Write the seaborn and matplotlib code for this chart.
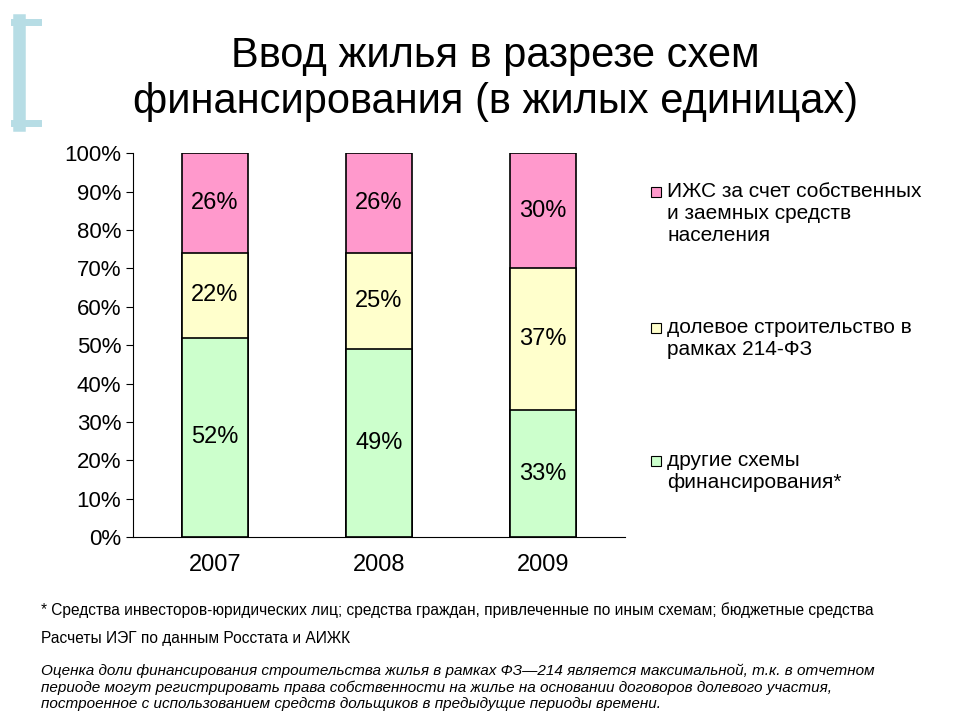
import matplotlib
matplotlib.use("Agg")
import matplotlib.pyplot as plt
import seaborn as sns
import pandas as pd
import numpy as np
from matplotlib.patches import Rectangle
from matplotlib.lines import Line2D

plt.rcParams["font.family"] = "Liberation Sans"

years = ["2007", "2008", "2009"]
other = [52, 49, 33]
shared = [22, 25, 37]
izhs = [26, 26, 30]
series_names = ["ИЖС за счет собственных\nи заемных средств\nнаселения",
                "долевое строительство в\nрамках 214-ФЗ",
                "другие схемы\nфинансирования*"]
colors = ["#ff99cc", "#ffffcc", "#ccffcc"]
yticks = [0, 10, 20, 30, 40, 50, 60, 70, 80, 90, 100]

fig = plt.figure(figsize=(9.6, 7.2), dpi=100)
ax = fig.add_axes([0.1385, 0.254, 0.5125, 0.533])

o = np.array(other); s = np.array(shared); z = np.array(izhs)
layers = [(o + s + z, colors[0]), (o + s, colors[1]), (o, colors[2])]
for vals, c in layers:
    df = pd.DataFrame({"year": years, "v": vals})
    sns.barplot(data=df, x="year", y="v", color=c, width=0.4,
                edgecolor="black", linewidth=1.2, saturation=1, ax=ax, errorbar=None)

bottoms = [np.zeros(3), o, o + s]
for vals, b in zip([other, shared, izhs], bottoms):
    for i, v in enumerate(vals):
        ax.text(i, b[i] + v / 2, f"{v}%", ha="center", va="center", fontsize=17)

ax.set_xlim(-0.5, 2.5)
ax.set_ylim(0, 100)
ax.set_yticks(yticks)
ax.set_yticklabels([f"{t}%" for t in yticks], fontsize=16)
ax.tick_params(axis="x", labelsize=17, length=0, pad=12)
ax.tick_params(axis="y", direction="out", length=5)
ax.set_xlabel(""); ax.set_ylabel("")
for sp in ["top", "right"]:
    ax.spines[sp].set_visible(False)

fig.text(0.516, 0.89, "Ввод жилья в разрезе схем\nфинансирования (в жилых единицах)",
         ha="center", va="center", fontsize=30, linespacing=1.2)

# bracket
bc = "#b7dde5"
fig.add_artist(Line2D([0.0195, 0.0195], [0.826, 0.972], color=bc, lw=9, transform=fig.transFigure))
fig.add_artist(Line2D([0.015, 0.04], [0.969, 0.969], color=bc, lw=5, transform=fig.transFigure))
fig.add_artist(Line2D([0.015, 0.04], [0.829, 0.829], color=bc, lw=5, transform=fig.transFigure))

# legend
leg_y = [0.733, 0.545, 0.36]
for name, c, y in zip(series_names, colors, leg_y):
    fig.add_artist(Rectangle((0.678, y - 0.007), 0.011, 0.014, facecolor=c,
                             edgecolor="black", lw=0.8, transform=fig.transFigure))
    fig.text(0.695, y + 0.014, name, ha="left", va="top", fontsize=15, linespacing=1.2)

fig.text(0.043, 0.153, "* Средства инвесторов-юридических лиц; средства граждан, привлеченные по иным схемам; бюджетные средства",
         fontsize=11.2, va="center")
fig.text(0.043, 0.113, "Расчеты ИЭГ по данным Росстата и АИЖК", fontsize=11.2, va="center")
fig.text(0.043, 0.045,
         "Оценка доли финансирования строительства жилья в рамках ФЗ—214 является максимальной, т.к. в отчетном\n"
         "периоде могут регистрировать права собственности на жилье на основании договоров долевого участия,\n"
         "построенное с использованием средств дольщиков в предыдущие периоды времени.",
         fontsize=11, style="italic", va="center", linespacing=1.2)

fig.savefig("out.png", dpi=100)
